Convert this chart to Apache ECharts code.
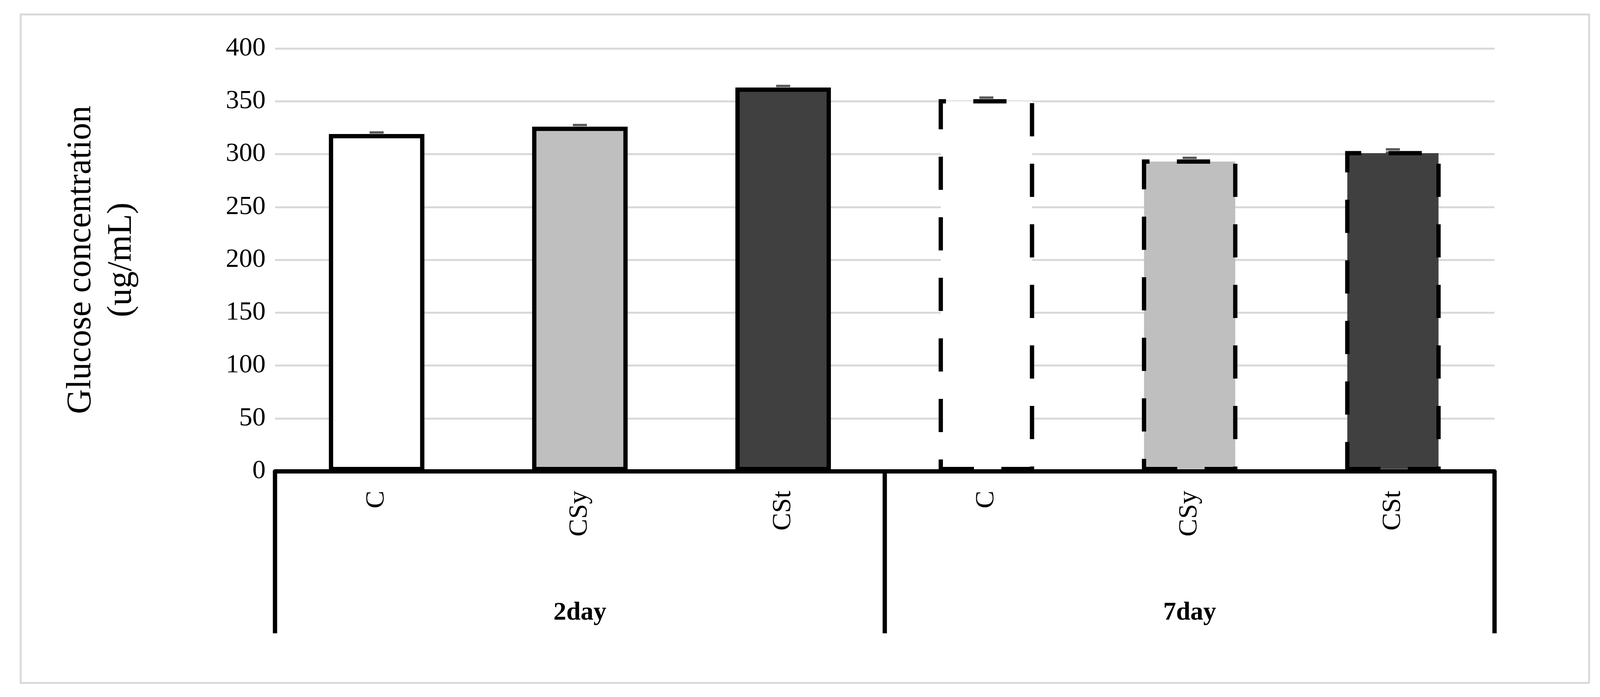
<!DOCTYPE html>
<html>
<head>
<meta charset="utf-8">
<script src="https://cdn.jsdelivr.net/npm/echarts@6/dist/echarts.min.js"></script>
<style>html,body{margin:0;padding:0;background:#fff}#chart{width:4120px;height:1784px}</style>
</head>
<body>
<div id="chart"></div>
<script>
var categories = ['C', 'CSy', 'CSt', 'C', 'CSy', 'CSt'];
var groups = ['2day', '7day'];
var groupSize = 3;
var values = [319, 326, 363, 352, 295, 303];
var errors = [1.5, 1.5, 1.5, 1.5, 1.5, 1.5];
var fills = ['#ffffff', '#bfbfbf', '#404040', '#ffffff', '#bfbfbf', '#404040'];
var yTicks = { min: 0, max: 400, interval: 50 };

var font = 'Liberation Serif';
var chart = echarts.init(document.getElementById('chart'));

var barData = values.map(function (v, i) {
    return {
        value: v,
        itemStyle: {
            color: fills[i],
            borderColor: '#000',
            borderWidth: 11,
            borderType: i >= groupSize ? [85, 70] : 'solid'
        }
    };
});

var option = {
    animation: false,
    grid: { left: 704, right: 294, top: 124, bottom: 578 },
    xAxis: {
        type: 'category',
        data: categories,
        axisLine: { lineStyle: { color: '#000', width: 11 } },
        axisTick: { show: false },
        axisLabel: { rotate: 90, margin: 50, fontFamily: font, fontSize: 68, color: '#000' }
    },
    yAxis: {
        type: 'value',
        min: yTicks.min, max: yTicks.max, interval: yTicks.interval,
        name: 'Glucose concentration\n(ug/mL)',
        nameLocation: 'middle',
        nameGap: 340,
        nameTextStyle: { fontFamily: font, fontSize: 88, color: '#000', lineHeight: 104 },
        axisLine: { show: false },
        axisTick: { show: false },
        axisLabel: { margin: 24, fontFamily: font, fontSize: 68, color: '#000' },
        splitLine: { lineStyle: { color: '#d9d9d9', width: 5 } }
    },
    series: [{
        type: 'bar',
        barWidth: '47%',
        data: barData
    }, {
        type: 'custom',
        data: values.map(function (v, i) { return [i, v, errors[i]]; }),
        renderItem: function (params, api) {
            var top = api.coord([api.value(0), api.value(1) + api.value(2)]);
            var bot = api.coord([api.value(0), api.value(1) - api.value(2)]);
            return {
                type: 'group',
                children: [
                    { type: 'line', shape: { x1: top[0] - 18, y1: top[1], x2: top[0] + 18, y2: top[1] }, style: { stroke: '#595959', lineWidth: 6 } },
                    { type: 'line', shape: { x1: bot[0] - 18, y1: bot[1], x2: bot[0] + 18, y2: bot[1] }, style: { stroke: '#595959', lineWidth: 6 } }
                ]
            };
        }
    }]
};
chart.setOption(option);

// group separators and labels under the axis
var y0 = chart.convertToPixel({ gridIndex: 0 }, [0, 0])[1];
var step = chart.convertToPixel({ xAxisIndex: 0 }, 1) - chart.convertToPixel({ xAxisIndex: 0 }, 0);
var x0 = chart.convertToPixel({ xAxisIndex: 0 }, 0) - step / 2;
var g = [
    { type: 'rect', shape: { x: 53, y: 37, width: 4015, height: 1711 }, style: { fill: 'none', stroke: '#d9d9d9', lineWidth: 5 }, z: -1 }
];
for (var k = 0; k <= groups.length; k++) {
    var xs = x0 + k * groupSize * step;
    g.push({ type: 'line', shape: { x1: xs, y1: y0, x2: xs, y2: y0 + 415 }, style: { stroke: '#000', lineWidth: 11 } });
}
groups.forEach(function (name, k) {
    g.push({
        type: 'text', x: x0 + (k + 0.5) * groupSize * step, y: y0 + 363,
        style: { text: name, fontFamily: font, fontWeight: 'bold', fontSize: 66, fill: '#000', align: 'center', verticalAlign: 'middle' }
    });
});
chart.setOption({ graphic: g });
</script>
</body>
</html>
